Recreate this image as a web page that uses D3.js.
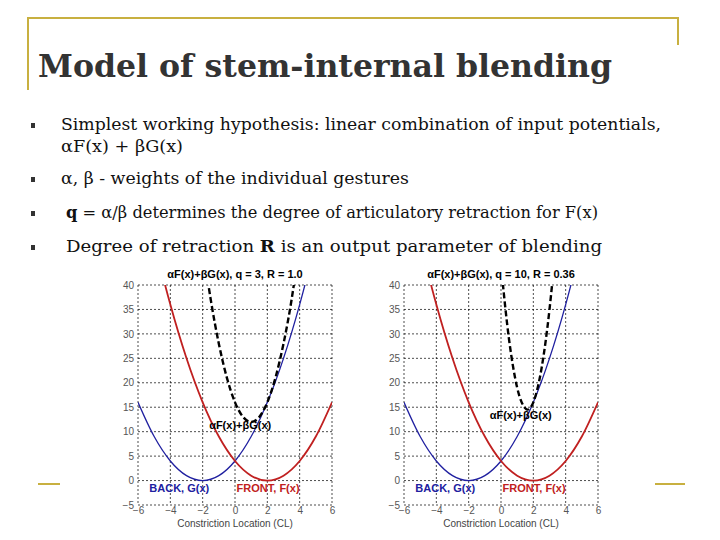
<!DOCTYPE html>
<html><head><meta charset="utf-8">
<script src="https://cdn.jsdelivr.net/npm/d3@7"></script>
<style>body{margin:0;background:#fff}</style>
</head><body><div id="slide"></div>
<script>
var xVals = [-6,-5,-4,-3,-2,-1,0,1,2,3,4,5,6];
var backG = [16,9,4,1,0,1,4,9,16,25,36,49,64];
var frontF = [64,49,36,25,16,9,4,1,0,1,4,9,16];
var sumX1 = [-1.7,-1.5,-1,-0.5,0,0.5,1,1.5,2,2.5,3,3.5,3.7];
var sumY1 = [41.2,37,28,21,16,13,12,13,16,21,28,37,41.4];
var sumX2 = [0,0.5,1,1.5,1.64,2,2.5,3,3.2];
var sumY2 = [44,28.8,19,14.8,14.5,16,22.8,35,41.4];
var xTicks = [-6,-4,-2,0,2,4,6];
var yTicks = [-5,0,5,10,15,20,25,30,35,40];
var bulletY = [130, 184, 184+34, 252];
var bulletW = [600, 468, 532, 536];

var svg = d3.select('#slide').append('svg').attr('width', 720).attr('height', 540);
var gold = '#c8b040';
svg.append('path').attr('d', 'M28,90V18H678V45').attr('fill','none').attr('stroke',gold).attr('stroke-width',2);
svg.append('line').attr('x1',38).attr('x2',60).attr('y1',484).attr('y2',484).attr('stroke',gold).attr('stroke-width',2);
svg.append('line').attr('x1',655).attr('x2',685).attr('y1',484).attr('y2',484).attr('stroke',gold).attr('stroke-width',2);

svg.append('text').attr('x',38).attr('y',77).text('Model of stem-internal blending')
  .attr('font-family','DejaVu Serif').attr('font-weight','bold').attr('font-size',31).attr('fill','#333')
  .attr('textLength',574).attr('lengthAdjust','spacingAndGlyphs');

var sf = 'DejaVu Serif';
function btext(xp, yp, w) {
  return svg.append('text').attr('x',xp).attr('y',yp).attr('font-family',sf).attr('font-size',17).attr('fill','#111')
    .attr('textLength',w).attr('lengthAdjust','spacingAndGlyphs');
}
[0,1,2,3].forEach(function(i){
  svg.append('rect').attr('x',31).attr('y',bulletY[i]-7).attr('width',4).attr('height',5).attr('fill','#333');
});
btext(61, bulletY[0], bulletW[0]).text('Simplest working hypothesis: linear combination of input potentials,');
btext(61, bulletY[0]+22, 122).text('αF(x) + βG(x)');
btext(61, bulletY[1], 348).text('α, β  - weights of the individual gestures');
var t3 = btext(66, bulletY[2], bulletW[2]);
t3.append('tspan').attr('font-weight','bold').text('q');
t3.append('tspan').text(' = α/β determines the degree of articulatory retraction for F(x)');
var t4 = btext(66, bulletY[3], bulletW[3]);
t4.append('tspan').text('Degree of retraction ');
t4.append('tspan').attr('font-weight','bold').text('R');
t4.append('tspan').text(' is an output parameter of blending');

function panel(x0, title, sx, sy, labelPos) {
  var x = d3.scaleLinear().domain([-6,6]).range([x0, x0+194]);
  var y = d3.scaleLinear().domain([-5,40]).range([505, 285]);
  var g = svg.append('g');
  var id = 'clip' + x0;
  svg.append('clipPath').attr('id', id).append('rect').attr('x',x0).attr('y',285).attr('width',194).attr('height',220);
  xTicks.forEach(function(t) {
    g.append('line').attr('x1',x(t)).attr('x2',x(t)).attr('y1',285).attr('y2',505).attr('stroke','#000').attr('stroke-width',0.7).attr('stroke-dasharray','2,2');
  });
  yTicks.forEach(function(t) {
    g.append('line').attr('x1',x0).attr('x2',x0+194).attr('y1',y(t)).attr('y2',y(t)).attr('stroke','#000').attr('stroke-width',0.7).attr('stroke-dasharray','2,2');
  });
  function tickStyle(a){ a.select('.domain').remove(); a.selectAll('text').attr('font-size',10).attr('fill','#555').attr('font-family','Liberation Sans'); }
  g.append('g').attr('transform','translate(0,505)').call(d3.axisBottom(x).tickValues(xTicks).tickSize(0).tickPadding(2)).call(tickStyle);
  g.append('g').attr('transform','translate(' + x0 + ',0)').call(d3.axisLeft(y).tickValues(yTicks).tickSize(0).tickPadding(4)).call(tickStyle);
  var line = d3.line().curve(d3.curveMonotoneX).x(function(d){return x(d[0]);}).y(function(d){return y(d[1]);});
  var cg = g.append('g').attr('clip-path','url(#' + id + ')');
  cg.append('path').attr('d', line(d3.zip(xVals, backG))).attr('fill','none').attr('stroke','#2020a0').attr('stroke-width',1.3);
  cg.append('path').attr('d', line(d3.zip(xVals, frontF))).attr('fill','none').attr('stroke','#c02020').attr('stroke-width',1.8);
  cg.append('path').attr('d', line(d3.zip(sx, sy))).attr('fill','none').attr('stroke','#000').attr('stroke-width',2.4).attr('stroke-dasharray','6,3');
  var f = 'Liberation Sans';
  g.append('text').attr('x', x0+97).attr('y',278).attr('text-anchor','middle').attr('font-family',f).attr('font-weight','bold').attr('font-size',11).text(title);
  g.append('text').attr('x', x(labelPos[0])).attr('y', y(labelPos[1])).attr('font-family',f).attr('font-weight','bold').attr('font-size',11).text('αF(x)+βG(x)');
  g.append('text').attr('x', x(-5.3)).attr('y', y(-2.3)).attr('font-family',f).attr('font-weight','bold').attr('font-size',11).attr('fill','#2020a0').text('BACK, G(x)');
  g.append('text').attr('x', x(0.1)).attr('y', y(-2.3)).attr('font-family',f).attr('font-weight','bold').attr('font-size',11).attr('fill','#c02020').text('FRONT, F(x)');
  g.append('text').attr('x', x0+97).attr('y',527).attr('text-anchor','middle').attr('font-family',f).attr('font-size',10).attr('fill','#444').text('Constriction Location (CL)');
}
panel(138, 'αF(x)+βG(x), q = 3, R = 1.0', sumX1, sumY1, [-1.6, 10.5]);
panel(404, 'αF(x)+βG(x), q = 10, R = 0.36', sumX2, sumY2, [-0.7, 12.5]);
</script></body></html>
